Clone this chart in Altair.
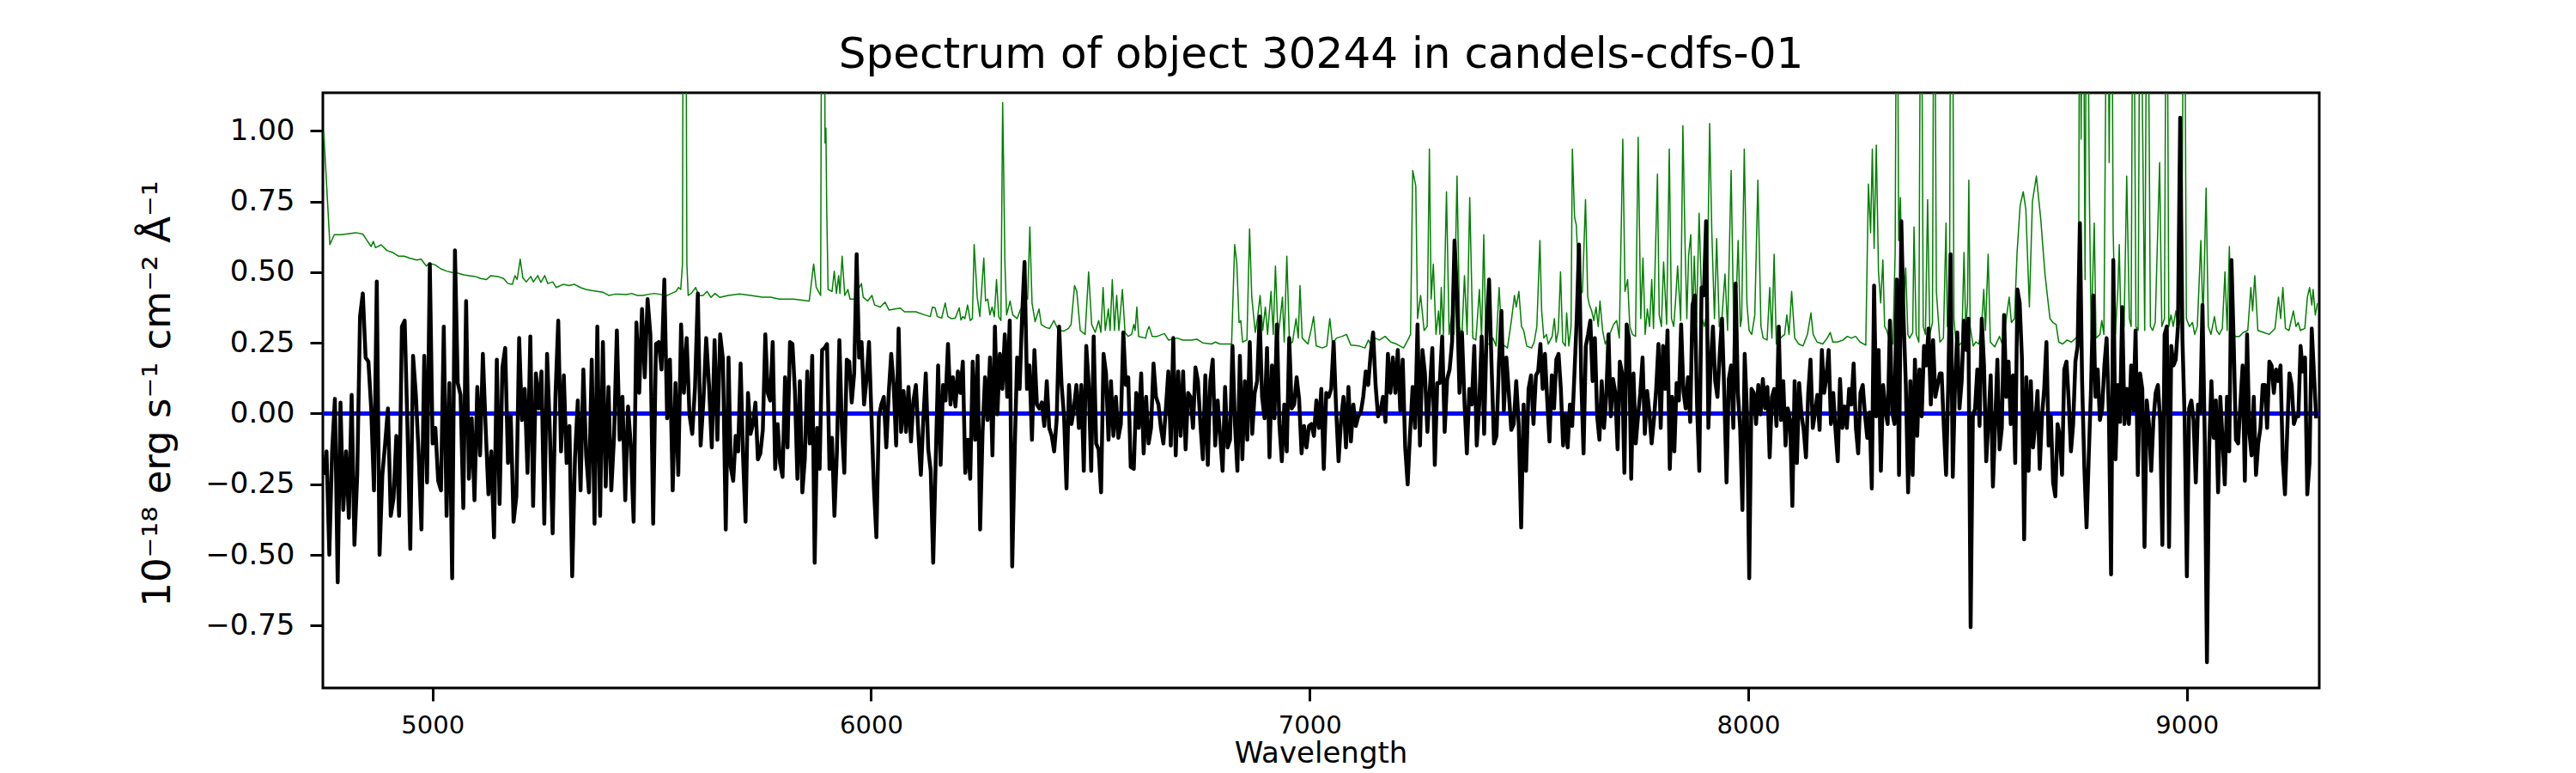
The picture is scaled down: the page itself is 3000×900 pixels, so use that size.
import altair as alt
import numpy as np
import pandas as pd

TITLE = "Spectrum of object 30244 in candels-cdfs-01"
Y_TITLE = "10⁻¹⁸ erg s⁻¹ cm⁻² Å⁻¹"
X_TITLE = "Wavelength"
X_TICKS = [5000, 6000, 7000, 8000, 9000]
Y_TICKS = [-0.75, -0.5, -0.25, 0.0, 0.25, 0.5, 0.75, 1.0]
X_DOMAIN = [4750, 9302]
Y_DOMAIN = [-0.971, 1.135]

# Object spectrum (black), read segment by segment: (first wavelength, last wavelength, fluxes)
OBJ_SEG_1 = (4752, 5675, [-0.217,-0.134,-0.500,-0.134,0.052,-0.597,0.039,-0.341,-0.134,-0.369,0.066,-0.465,-0.217,0.343,0.425,0.198,0.184,0.018,-0.272,0.467,-0.500,-0.217,-0.106,0.018,-0.362,-0.300,-0.079,-0.362,0.308,0.329,-0.051,-0.479,0.204,0.066,-0.141,-0.410,0.204,-0.244,0.529,-0.106,-0.051,-0.238,-0.272,0.308,-0.362,0.108,-0.583,0.577,0.108,0.066,-0.334,0.398,-0.231,-0.017,-0.307,0.094,-0.148,0.211,-0.051,-0.286,-0.134,-0.438,0.191,-0.320,0.163,0.232,-0.175,-0.010,-0.383,-0.293,0.267,-0.023,0.087,-0.210,0.273,-0.327,0.142,0.018,0.149,-0.390,0.211,-0.065,-0.424,0.059,0.329,-0.134,0.135,-0.175,-0.044,-0.576,-0.155,0.046,-0.272,0.156,-0.148,-0.279,0.191,-0.390,0.308,-0.362,0.253,-0.258,0.094,-0.272,-0.079,0.294,-0.093,0.059,-0.307,0.025,-0.113,-0.383,0.322,0.073,0.370,0.128,0.405,0.280,-0.390,0.246,0.253,0.156,0.474,-0.017,0.191,-0.272,0.108,-0.217,0.315,0.073,0.267,-0.003,-0.072,0.094,0.425,-0.113,0.046,0.267,0.101,-0.120,0.260,-0.093,0.280,0.191,-0.410,0.198])
OBJ_SEG_2 = (5680, 6592, [-0.189,-0.238,-0.079,-0.134,0.177,-0.155,-0.383,0.073,-0.072,-0.037,0.039,-0.162,-0.141,-0.058,0.280,0.073,0.046,0.253,-0.196,-0.037,-0.175,-0.224,0.128,-0.120,0.253,0.246,0.080,-0.231,0.115,-0.279,-0.162,0.149,-0.106,0.204,-0.528,-0.051,-0.196,0.225,0.232,0.246,-0.196,-0.086,-0.362,-0.134,0.260,-0.044,-0.210,0.191,0.184,0.039,0.142,0.564,0.198,0.253,0.032,0.122,0.253,-0.010,-0.265,-0.438,-0.010,0.032,0.059,-0.120,0.073,0.211,0.101,-0.113,0.301,-0.065,0.080,-0.065,0.094,-0.099,0.046,0.101,-0.072,-0.217,-0.023,0.142,-0.127,-0.203,-0.528,-0.175,0.170,-0.182,0.101,0.046,0.246,0.032,0.128,0.025,0.149,0.073,0.184,-0.210,-0.093,-0.231,0.184,-0.093,0.204,-0.410,-0.065,0.128,-0.023,0.198,-0.148,0.308,-0.003,0.211,0.087,0.280,0.059,0.329,-0.541,-0.134,0.198,0.087,0.343,0.536,0.087,0.170,-0.093,0.225,0.032,0.018,0.039,-0.044,0.115,-0.051,-0.079,-0.134,-0.023,0.308,0.101,-0.010,-0.265,0.101,-0.037,0.018,0.101,-0.051,0.101,-0.203,0.239,0.101,-0.203,0.273,-0.106,-0.127,-0.279,0.211,0.142,-0.093,0.115,-0.079,0.059,-0.086,-0.037,0.287,0.101,0.128,-0.189])
OBJ_SEG_3 = (6599, 7516, [-0.196,0.073,-0.051,0.142,-0.141,0.059,-0.106,-0.051,0.177,0.059,0.032,-0.051,-0.106,0.018,0.149,-0.113,0.267,-0.148,0.149,-0.079,0.149,-0.127,0.073,0.059,-0.051,0.163,0.115,-0.037,-0.162,0.135,-0.182,0.115,0.191,-0.113,0.046,-0.079,-0.203,0.094,-0.120,-0.093,0.239,-0.037,-0.203,0.204,-0.162,0.115,-0.093,0.253,-0.072,0.073,0.115,0.343,0.059,-0.017,0.232,-0.155,0.170,-0.017,0.315,-0.037,-0.169,0.032,-0.134,0.267,0.018,0.032,0.128,0.052,-0.141,-0.044,-0.120,-0.044,-0.037,-0.079,0.046,-0.051,0.087,-0.196,0.073,0.059,0.087,0.253,0.018,-0.169,-0.023,0.059,-0.120,0.094,-0.099,0.032,-0.044,-0.010,0.004,0.059,0.149,0.101,0.211,0.287,0.101,-0.010,0.011,0.059,-0.030,0.211,0.073,0.198,0.073,0.225,0.011,0.191,-0.120,-0.251,-0.065,0.094,-0.051,0.315,-0.113,0.225,0.142,-0.065,0.087,0.232,-0.182,0.108,0.108,0.273,-0.065,0.122,0.156,0.253,0.612,0.418,0.073,0.287,0.046,-0.141,0.087,0.032,0.239,-0.113,0.032,0.273,-0.072,0.294,0.474,0.170,-0.106,-0.079,0.177,0.363,0.011,0.198,0.073,-0.058,-0.037,0.115,-0.037,-0.403,0.032,-0.203,0.087,0.135,-0.037,0.135])
OBJ_SEG_4 = (7521, 8437, [0.149,0.246,0.087,0.211,0.046,-0.099,0.135,0.018,0.191,0.211,0.087,-0.113,-0.003,-0.120,0.032,-0.044,0.142,0.336,0.598,0.115,-0.141,0.239,0.280,0.329,0.115,0.267,-0.010,-0.093,0.115,-0.051,0.059,0.280,-0.010,0.122,0.073,-0.127,0.184,0.142,-0.210,0.315,0.267,-0.231,0.142,-0.106,-0.010,0.073,0.198,-0.072,0.080,0.004,-0.106,-0.023,0.087,0.246,-0.051,0.239,0.087,0.294,-0.196,0.059,-0.134,0.108,0.046,0.315,0.080,0.018,0.128,-0.030,0.384,0.418,0.032,-0.203,0.446,0.418,0.681,-0.051,0.170,0.308,0.115,0.059,0.211,0.336,0.073,-0.244,0.122,0.170,-0.051,0.460,0.073,-0.051,-0.341,0.211,0.004,-0.583,0.087,0.073,-0.037,0.101,-0.003,0.122,0.018,0.094,-0.155,0.059,0.087,-0.044,0.308,-0.023,0.115,-0.113,0.018,-0.023,-0.327,0.115,-0.175,0.108,-0.003,-0.058,-0.155,0.073,0.191,-0.051,0.004,0.066,-0.058,0.225,0.073,0.128,0.225,-0.037,0.073,-0.058,-0.169,0.122,-0.051,0.025,-0.051,0.087,0.032,0.177,-0.051,-0.141,0.073,0.101,-0.003,-0.086,0.004,-0.265,0.453,-0.010,0.225,-0.203,0.101,0.011,-0.037,0.329,0.004,-0.037,0.474,-0.217,0.681,0.336,0.101,-0.279,0.115,-0.217,0.191,-0.079,0.156,-0.010,0.239,0.170,0.301,0.032,0.260,0.059,0.101,0.142])
OBJ_SEG_5 = (8441, 9295, [0.142,-0.051,-0.217,0.115,0.564,-0.224,0.101,0.287,0.018,0.115,0.329,0.225,0.336,-0.756,-0.010,0.018,0.156,-0.044,0.336,0.170,-0.169,-0.023,0.135,-0.258,-0.037,0.191,-0.127,-0.051,0.349,0.059,0.184,-0.037,0.135,-0.175,0.439,0.391,0.198,-0.445,0.128,-0.203,0.115,-0.120,-0.037,0.080,-0.196,-0.010,0.087,0.253,-0.113,-0.010,-0.244,-0.293,-0.037,-0.079,-0.217,0.156,0.184,0.046,-0.134,-0.037,0.184,0.239,0.674,0.115,-0.189,-0.403,-0.148,0.087,0.418,0.059,0.156,-0.023,0.018,0.170,0.267,0.004,-0.569,0.543,-0.162,0.101,-0.030,0.377,-0.037,0.087,-0.037,0.170,0.011,0.294,-0.217,0.142,0.087,-0.472,0.046,-0.037,-0.203,-0.023,0.073,0.101,-0.023,-0.465,0.280,0.308,-0.472,0.239,0.170,0.191,0.308,1.047,0.267,-0.023,-0.576,0.018,0.046,-0.023,-0.244,0.032,0.004,0.384,-0.079,-0.880,-0.120,0.115,-0.086,0.046,-0.279,0.059,-0.093,-0.251,0.059,-0.134,0.543,0.253,-0.093,-0.106,0.032,0.170,-0.238,0.280,-0.065,-0.148,0.059,-0.217,-0.106,-0.051,0.101,0.101,-0.051,0.184,0.170,0.073,0.156,0.115,0.170,-0.162,-0.286,-0.065,0.142,0.101,-0.037,-0.010,-0.010,0.239,0.149,0.198,-0.286,-0.175,0.301,0.142,-0.017])

# Error / sky spectrum (green): (wavelength, flux) pairs; 2.0 marks lines running off the top
SKY_1 = [(4752,0.996),(4766,0.598),(4776,0.633),(4792,0.633),(4825,0.640),(4841,0.635),(4851,0.612),(4860,0.591),(4865,0.609),(4870,0.587),(4883,0.597),(4896,0.577),(4909,0.570),(4922,0.557),(4935,0.557),(4948,0.550),(4964,0.543),(4974,0.546),(4986,0.522),(4993,0.532),(5006,0.526),(5019,0.512),(5032,0.504),(5045,0.499),(5058,0.497),(5071,0.491),(5084,0.488),(5097,0.485),(5110,0.478),(5123,0.474),(5133,0.488),(5149,0.485),(5162,0.478),(5172,0.460),(5182,0.457),(5188,0.488),(5193,0.474),(5200,0.546),(5206,0.480),(5214,0.466),(5224,0.485),(5230,0.466),(5240,0.488),(5247,0.464),(5256,0.488),(5263,0.460),(5274,0.466),(5282,0.446),(5298,0.457),(5311,0.453),(5324,0.457),(5337,0.446),(5350,0.439),(5363,0.435),(5376,0.432),(5389,0.429),(5402,0.418),(5415,0.422),(5428,0.422),(5441,0.421),(5454,0.425),(5467,0.418),(5480,0.418),(5493,0.422),(5506,0.425),(5519,0.422),(5532,0.416),(5545,0.425),(5555,0.432),(5561,0.446),(5566,0.439),(5570,0.530),(5572,2.0),(5577,2.0),(5580,0.530),(5583,0.418),(5590,0.425),(5600,0.446),(5607,0.418),(5617,0.418),(5626,0.432),(5635,0.411),(5644,0.425),(5655,0.411)]
SKY_2 = [(5674,0.418),(5700,0.423),(5726,0.418),(5752,0.412),(5771,0.412),(5791,0.405),(5823,0.405),(5859,0.398),(5869,0.529),(5875,0.446),(5885,0.418),(5888,2.0),(5893,2.0),(5895,0.957),(5897,1.01),(5899,0.709),(5902,0.439),(5911,0.432),(5916,0.504),(5921,0.425),(5926,0.488),(5929,0.425),(5934,0.557),(5940,0.418),(5947,0.439),(5952,0.405),(5963,0.405),(5971,0.439),(5978,0.460),(5982,0.412),(5992,0.398),(6002,0.418),(6008,0.384),(6021,0.377),(6032,0.394),(6041,0.366),(6054,0.370),(6067,0.373),(6076,0.360),(6102,0.360),(6122,0.349),(6135,0.343),(6140,0.377),(6146,0.374),(6151,0.343),(6161,0.338),(6169,0.391),(6175,0.343),(6183,0.336),(6192,0.338),(6201,0.374),(6205,0.331),(6209,0.343),(6214,0.336),(6220,0.384),(6226,0.329),(6231,0.336),(6235,0.598),(6242,0.412),(6248,0.343),(6257,0.550),(6261,0.398),(6266,0.405),(6271,0.349),(6276,0.377),(6281,0.343),(6286,0.474),(6291,0.343),(6296,0.329),(6300,1.10),(6302,0.90),(6305,0.543),(6309,0.349),(6317,0.398),(6323,0.349),(6333,0.336),(6341,0.370),(6348,0.370),(6352,0.425),(6357,0.405),(6362,0.660),(6367,0.391),(6374,0.325),(6383,0.370),(6388,0.315),(6398,0.305),(6407,0.301),(6417,0.329),(6427,0.294),(6440,0.292),(6450,0.301),(6456,0.315),(6464,0.453),(6469,0.432),(6477,0.294),(6488,0.280),(6496,0.501),(6503,0.315),(6511,0.287),(6519,0.329),(6524,0.287),(6529,0.446),(6534,0.294),(6541,0.370),(6545,0.294),(6550,0.474),(6555,0.294),(6560,0.418),(6565,0.294),(6573,0.439),(6579,0.287),(6586,0.273)]
SKY_3 = [(6594,0.280),(6599,0.315),(6602,0.294),(6606,0.377),(6610,0.273),(6626,0.267),(6630,0.294),(6634,0.308),(6641,0.273),(6652,0.273),(6669,0.283),(6678,0.260),(6698,0.267),(6711,0.260),(6730,0.260),(6743,0.263),(6756,0.250),(6776,0.246),(6785,0.253),(6795,0.246),(6822,0.246),(6829,0.598),(6834,0.529),(6839,0.322),(6843,0.329),(6847,0.253),(6857,0.260),(6863,0.653),(6868,0.412),(6876,0.287),(6881,0.336),(6887,0.418),(6893,0.294),(6899,0.377),(6904,0.280),(6912,0.432),(6917,0.280),(6922,0.522),(6928,0.267),(6938,0.412),(6942,0.253),(6948,0.557),(6954,0.246),(6961,0.253),(6969,0.336),(6974,0.267),(6978,0.453),(6983,0.267),(6996,0.246),(7004,0.301),(7009,0.343),(7015,0.239),(7029,0.232),(7039,0.239),(7046,0.336),(7052,0.246),(7061,0.267),(7074,0.273),(7084,0.280),(7094,0.242),(7113,0.239),(7126,0.232),(7134,0.260),(7140,0.242),(7149,0.267),(7159,0.260),(7172,0.273),(7185,0.253),(7198,0.246),(7214,0.232),(7224,0.260),(7230,0.280),(7235,0.860),(7242,0.805),(7246,0.336),(7253,0.418),(7261,0.294),(7268,0.308),(7273,0.936),(7277,0.405),(7282,0.529),(7288,0.280),(7294,0.363),(7297,0.280),(7300,0.446),(7305,0.280),(7312,0.785),(7318,0.280),(7324,0.349),(7329,0.280),(7336,0.840),(7342,0.308),(7347,0.267),(7353,0.488),(7359,0.280),(7365,0.764),(7372,0.267),(7379,0.260),(7387,0.439),(7392,0.267),(7397,0.633),(7402,0.246),(7412,0.246),(7418,0.267),(7425,0.239),(7432,0.446),(7439,0.246),(7451,0.232),(7460,0.329),(7467,0.418),(7471,0.377),(7477,0.432),(7483,0.308),(7488,0.294),(7495,0.239),(7506,0.232)]
SKY_4 = [(7512,0.253),(7518,0.308),(7525,0.612),(7529,0.363),(7534,0.267),(7540,0.280),(7544,0.246),(7553,0.273),(7558,0.336),(7562,0.253),(7567,0.294),(7572,0.501),(7577,0.253),(7583,0.239),(7586,0.356),(7591,0.239),(7596,0.308),(7599,0.936),(7604,0.695),(7608,0.667),(7612,0.529),(7617,0.418),(7622,0.432),(7629,0.757),(7634,0.412),(7638,0.384),(7643,0.363),(7648,0.329),(7653,0.377),(7658,0.308),(7662,0.398),(7668,0.294),(7674,0.246),(7684,0.280),(7693,0.315),(7700,0.329),(7706,0.267),(7714,0.971),(7719,0.432),(7725,0.474),(7730,0.308),(7736,0.280),(7743,0.273),(7749,0.978),(7755,0.336),(7760,0.550),(7765,0.280),(7770,0.370),(7775,0.308),(7780,0.474),(7784,0.301),(7793,0.847),(7797,0.349),(7802,0.308),(7807,0.536),(7814,0.315),(7820,0.936),(7825,0.336),(7830,0.308),(7834,0.391),(7839,0.522),(7846,0.329),(7851,1.019),(7856,0.598),(7860,0.336),(7864,0.557),(7869,0.633),(7873,0.336),(7877,0.557),(7882,0.322),(7888,0.709),(7895,0.336),(7900,0.308),(7906,0.363),(7912,1.026),(7917,0.640),(7923,0.336),(7928,0.619),(7934,0.308),(7940,0.336),(7947,0.494),(7953,0.294),(7961,0.860),(7967,0.294),(7971,0.336),(7977,0.612),(7982,0.308),(7985,0.336),(7991,0.936),(7997,0.391),(8002,0.294),(8008,0.280),(8015,0.349),(8022,0.826),(8029,0.308),(8034,0.267),(8043,0.260),(8049,0.446),(8054,0.267),(8059,0.564),(8064,0.246),(8073,0.267),(8083,0.280),(8088,0.349),(8093,0.280),(8099,0.432),(8106,0.267),(8115,0.246),(8125,0.239),(8135,0.280),(8143,0.356),(8148,0.280),(8157,0.253),(8170,0.246),(8180,0.267),(8187,0.287),(8193,0.253),(8203,0.253),(8216,0.260),(8226,0.273),(8235,0.267),(8245,0.273),(8255,0.253),(8268,0.242),(8274,0.812),(8279,0.640),(8283,0.936),(8287,0.584),(8292,0.950),(8297,0.501),(8302,0.391),(8307,0.543),(8311,0.308),(8316,0.294),(8323,0.253),(8330,0.246),(8335,0.570),(8339,2.0),(8343,0.612),(8347,0.764),(8352,0.308),(8359,0.515),(8364,0.280),(8368,0.267),(8375,0.287),(8378,0.660),(8383,0.280),(8389,0.253),(8394,2.0),(8399,0.308),(8404,0.280),(8409,0.757),(8414,0.280),(8420,0.322),(8424,2.0),(8429,0.432),(8437,0.253)]
SKY_5 = [(8445,0.267),(8451,0.674),(8454,0.308),(8459,0.391),(8462,2.0),(8465,2.0),(8469,0.336),(8474,0.246),(8480,0.239),(8487,0.253),(8492,0.570),(8496,0.294),(8500,0.391),(8503,0.826),(8506,0.308),(8513,0.239),(8519,0.253),(8526,0.246),(8532,0.308),(8537,0.439),(8541,0.294),(8547,0.564),(8552,0.253),(8562,0.236),(8573,0.273),(8581,0.236),(8589,0.343),(8595,0.412),(8600,0.322),(8607,0.336),(8613,0.570),(8620,0.736),(8627,0.785),(8633,0.722),(8641,0.377),(8648,0.750),(8657,0.840),(8662,0.764),(8667,0.688),(8672,0.584),(8677,0.488),(8682,0.418),(8688,0.336),(8695,0.322),(8702,0.315),(8708,0.253),(8717,0.246),(8727,0.260),(8737,0.253),(8747,0.267),(8753,0.280),(8756,2.0),(8759,0.971),(8763,2.0),(8768,0.474),(8772,2.0),(8778,0.750),(8782,0.280),(8789,0.674),(8793,0.267),(8802,0.280),(8806,0.329),(8811,0.280),(8819,2.0),(8823,0.888),(8828,2.0),(8832,0.653),(8837,0.280),(8843,0.446),(8846,0.598),(8850,0.294),(8857,0.308),(8863,0.840),(8869,0.336),(8873,0.308),(8878,2.0),(8884,0.308),(8889,0.294),(8894,2.0),(8899,1.054),(8904,0.294),(8910,2.0),(8917,0.308),(8922,0.294),(8928,0.322),(8938,0.888),(8943,0.308),(8949,0.336),(8954,2.0),(8959,0.308),(8964,0.349),(8969,0.308),(8975,0.363),(8981,0.308),(8988,0.349),(8994,2.0),(8999,0.336),(9006,0.308),(9013,0.322),(9018,0.280),(9024,0.308),(9032,0.612),(9037,0.322),(9044,0.798),(9049,0.308),(9055,0.280),(9063,0.343),(9068,0.294),(9074,0.280),(9081,0.301),(9087,0.501),(9092,0.294),(9097,0.591),(9102,0.308),(9110,0.273),(9120,0.273),(9129,0.287),(9139,0.294),(9146,0.446),(9150,0.363),(9155,0.488),(9162,0.294),(9175,0.287),(9188,0.280),(9201,0.301),(9209,0.412),(9214,0.336),(9219,0.446),(9225,0.301),(9233,0.294),(9243,0.363),(9249,0.308),(9254,0.322),(9259,0.294),(9269,0.301),(9275,0.412),(9280,0.446),(9285,0.384),(9288,0.439),(9293,0.349),(9298,0.391)]

ZERO_LEVEL = 0.0

# ---- build tables ----
obj_wave, obj_flux = [], []
for lo, hi, vals in [OBJ_SEG_1, OBJ_SEG_2, OBJ_SEG_3, OBJ_SEG_4, OBJ_SEG_5]:
    obj_wave.extend(np.linspace(lo, hi, len(vals)).tolist())
    obj_flux.extend(vals)
obj_df = pd.DataFrame({"wave": obj_wave, "flux": obj_flux})

sky_pairs = SKY_1 + SKY_2 + SKY_3 + SKY_4 + SKY_5
sky_df = pd.DataFrame(sky_pairs, columns=["wave", "flux"])

FONT = "DejaVu Sans"

x_scale = alt.Scale(domain=X_DOMAIN, nice=False, zero=False)
y_scale = alt.Scale(domain=Y_DOMAIN, nice=False, zero=False)

x_axis = alt.Axis(
    values=X_TICKS, format="d", title=X_TITLE, grid=False, domain=False,
    labelFont=FONT, labelFontSize=29, labelColor="black", labelPadding=14,
    tickSize=15, tickWidth=3, tickColor="black",
    titleFont=FONT, titleFontSize=34, titleFontWeight="normal", titleColor="black",
    titleX=1162, titleY=86, titleBaseline="alphabetic", titleAlign="center",
)
y_axis = alt.Axis(
    values=Y_TICKS, format=".2f", title=Y_TITLE, grid=False, domain=False,
    labelFont=FONT, labelFontSize=34, labelColor="black", labelPadding=18,
    tickSize=15, tickWidth=3, tickColor="black",
    titleFont=FONT, titleFontSize=45, titleFontWeight="normal", titleColor="black",
    titleAngle=270, titleX=-193, titleY=350, titleBaseline="middle", titleAlign="center",
)

X_ENC = alt.X("wave:Q", scale=x_scale, axis=x_axis)

sky = alt.Chart(sky_df).mark_line(color="#008000", strokeWidth=1.5, clip=True, strokeJoin="round").encode(
    x=X_ENC,
    y=alt.Y("flux:Q", scale=y_scale, axis=y_axis),
)

zero = alt.Chart(pd.DataFrame({"flux": [ZERO_LEVEL]})).mark_rule(color="#0000ff", strokeWidth=5).encode(
    y=alt.Y("flux:Q", scale=y_scale, axis=y_axis),
)

obj = alt.Chart(obj_df).mark_line(color="black", strokeWidth=4.5, clip=True, strokeJoin="round").encode(
    x=X_ENC,
    y=alt.Y("flux:Q", scale=y_scale, axis=y_axis),
)

chart = alt.layer(sky, zero, obj).properties(
    width=2325,
    height=693,
    padding={"left": 368, "top": 100, "right": 291, "bottom": 99},
    autosize=alt.AutoSizeParams(type="none"),
    title=alt.TitleParams(
        text=TITLE, font=FONT, fontSize=50, fontWeight="normal", color="black",
        anchor="middle", baseline="alphabetic", offset=25, dy=46,
    ),
).configure(
    background="white"
).configure_view(
    stroke="black", strokeWidth=3
)

chart.save("out.html", embed_options={"renderer": "svg", "actions": False})
